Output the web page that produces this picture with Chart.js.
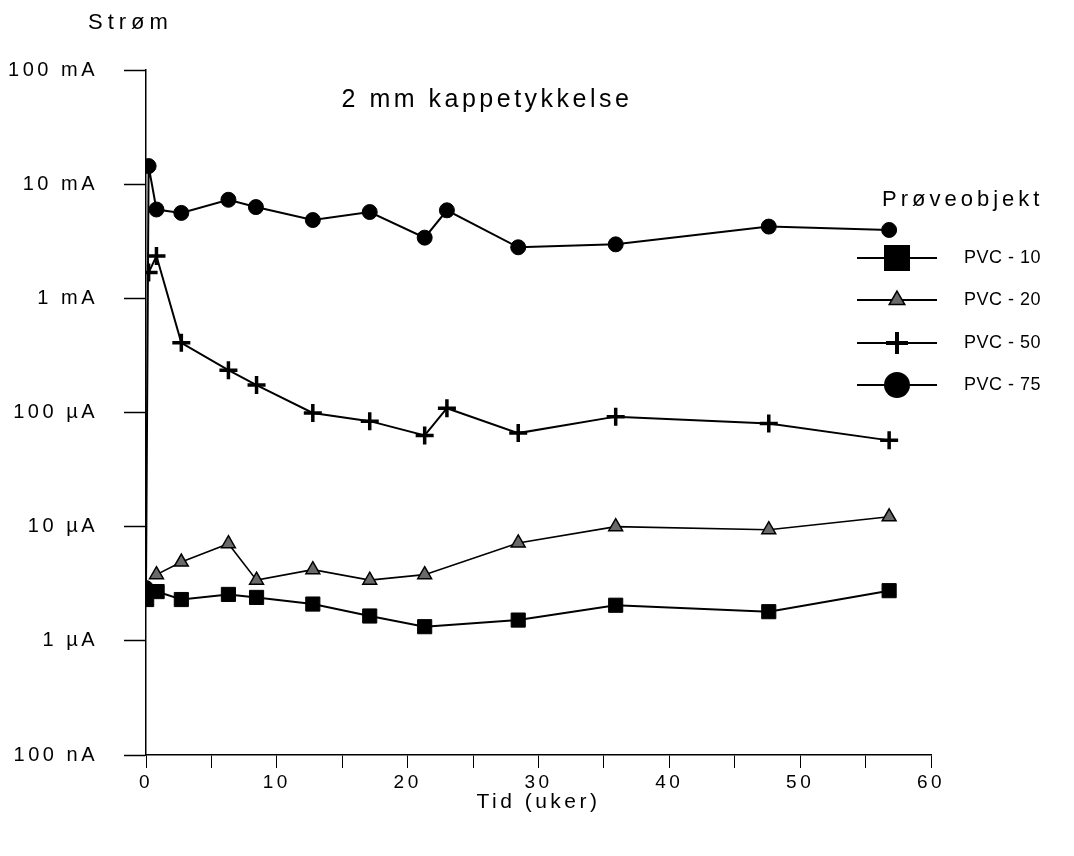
<!DOCTYPE html>
<html>
<head>
<meta charset="utf-8">
<script src="https://cdn.jsdelivr.net/npm/chart.js@4/dist/chart.umd.min.js"></script>
<style>
  html, body { margin: 0; padding: 0; background: #fff; }
  #wrap { width: 1074px; height: 856px; position: relative; }
</style>
</head>
<body>
<div id="wrap"><canvas id="chart"></canvas></div>
<script>
// values; current in µA, time in weeks
const pvc10Weeks = [0.05, 0.85, 2.7, 6.3, 8.45, 12.75, 17.1, 21.3, 28.45, 35.9, 47.6, 56.8]
const pvc10Current = [2.3, 2.7, 2.3, 2.55, 2.4, 2.1, 1.65, 1.33, 1.52, 2.05, 1.8, 2.75]

const pvc20Weeks = [0.8, 2.7, 6.3, 8.45, 12.75, 17.1, 21.3, 28.45, 35.9, 47.6, 56.8]
const pvc20Current = [3.8, 4.9, 7.1, 3.4, 4.2, 3.4, 3.8, 7.2, 10.0, 9.4, 12.2]

const pvc50Weeks = [0.2, 0.8, 2.7, 6.3, 8.45, 12.75, 17.1, 21.3, 23.0, 28.45, 35.9, 47.6, 56.8]
const pvc50Current = [1680, 2350, 408, 235, 174, 99, 84, 63, 109, 66, 92, 80, 57]

const pvc75Weeks = [0, 0.2, 0.8, 2.7, 6.3, 8.4, 12.75, 17.1, 21.3, 23.0, 28.45, 35.9, 47.6, 56.8]
const pvc75Current = [2.9, 14400, 6000, 5600, 7300, 6300, 4850, 5700, 3400, 5900, 2800, 2970, 4250, 3970]

const seriesNames = ['PVC - 10', 'PVC - 20', 'PVC - 50', 'PVC - 75']
const yTickValues = [0.1, 1, 10, 100, 1000, 10000, 100000]
const yTickLabels = ['100 nA', '1 µA', '10 µA', '100 µA', '1 mA', '10 mA', '100 mA']

const FONT = '"Liberation Sans", Arial, sans-serif'
const SPACING = '3.5px'

const toPoints = (xs, ys) => xs.map((x, i) => ({ x, y: ys[i] }))

const baseSet = {
	borderColor: '#000',
	borderWidth: 2,
	tension: 0,
	fill: false,
	pointBorderColor: '#000',
}

const datasets = [
	{ ...baseSet, label: seriesNames[0], data: toPoints(pvc10Weeks, pvc10Current),
		pointStyle: 'rect', pointRadius: 10, pointBackgroundColor: '#000', pointBorderWidth: 1 },
	{ ...baseSet, label: seriesNames[1], data: toPoints(pvc20Weeks, pvc20Current), borderWidth: 1.6,
		pointStyle: 'triangle', pointRadius: 8, pointBackgroundColor: '#6a6a6a', pointBorderWidth: 1.5 },
	{ ...baseSet, label: seriesNames[2], data: toPoints(pvc50Weeks, pvc50Current),
		pointStyle: 'cross', pointRadius: 9, pointBorderWidth: 3.5 },
	{ ...baseSet, label: seriesNames[3], data: toPoints(pvc75Weeks, pvc75Current),
		pointStyle: 'circle', pointRadius: 7.5, pointBackgroundColor: '#000', pointBorderWidth: 1 },
]

const drawMarker = (ctx, style, x, y) => {
	ctx.beginPath()
	if (style === 'rect') {
		ctx.fillRect(x - 13, y - 13, 26, 26)
	} else if (style === 'triangle') {
		const r = 9
		ctx.moveTo(x, y - r)
		ctx.lineTo(x + r * 0.866, y + r / 2)
		ctx.lineTo(x - r * 0.866, y + r / 2)
		ctx.closePath()
		ctx.fillStyle = '#6a6a6a'
		ctx.fill()
		ctx.lineWidth = 1.5
		ctx.stroke()
		ctx.fillStyle = '#000'
	} else if (style === 'cross') {
		ctx.lineWidth = 4
		ctx.moveTo(x, y - 11)
		ctx.lineTo(x, y + 11)
		ctx.moveTo(x - 11, y)
		ctx.lineTo(x + 11, y)
		ctx.stroke()
	} else {
		ctx.arc(x, y, 13, 0, Math.PI * 2)
		ctx.fill()
	}
}

const extras = {
	id: 'extras',
	beforeLayout(chart) { chart.ctx.letterSpacing = SPACING },
	beforeDraw(chart) { chart.ctx.letterSpacing = SPACING },
	afterDraw(chart) {
		const ctx = chart.ctx
		ctx.save()
		ctx.fillStyle = '#000'
		ctx.strokeStyle = '#000'
		ctx.textBaseline = 'middle'

		ctx.textAlign = 'left'
		ctx.letterSpacing = '5px'
		ctx.font = `22px ${FONT}`
		ctx.fillText('Strøm', 88, 23)

		ctx.textAlign = 'center'
		ctx.letterSpacing = '3.5px'
		ctx.font = `25px ${FONT}`
		ctx.fillText('2 mm kappetykkelse', 487, 100)

		ctx.textAlign = 'left'
		ctx.letterSpacing = '4px'
		ctx.font = `22px ${FONT}`
		ctx.fillText('Prøveobjekt', 882, 200)

		ctx.letterSpacing = '0.5px'
		ctx.font = `18px ${FONT}`
		const rows = [258, 300, 343, 385]
		chart.data.datasets.forEach((ds, i) => {
			const y = rows[i]
			ctx.lineWidth = 2
			ctx.beginPath()
			ctx.moveTo(857, y)
			ctx.lineTo(937, y)
			ctx.stroke()
			drawMarker(ctx, ds.pointStyle, 897, y)
			ctx.fillText(ds.label, 964, y)
		})
		ctx.restore()
	},
}

new Chart(document.getElementById('chart'), {
	type: 'line',
	data: { datasets },
	plugins: [extras],
	options: {
		responsive: true,
		maintainAspectRatio: false,
		animation: false,
		layout: { padding: { top: 70, right: 143, left: 0, bottom: 0 } },
		plugins: { legend: { display: false }, tooltip: { enabled: false } },
		scales: {
			x: {
				type: 'linear',
				min: 0,
				max: 60,
				afterFit: scale => { scale.height = 101 },
				border: { display: true, color: '#000', width: 1.5 },
				grid: { drawOnChartArea: false, tickLength: 13, color: '#000', tickWidth: 1 },
				ticks: {
					stepSize: 5,
					color: '#000',
					padding: 3,
					maxRotation: 0,
					autoSkip: false,
					font: { family: FONT, size: 19 },
					callback: v => (v % 10 === 0 ? String(v) : ''),
				},
				title: {
					display: true,
					text: 'Tid (uker)',
					color: '#000',
					font: { family: FONT, size: 21 },
					padding: { top: 0, bottom: 41 },
				},
			},
			y: {
				type: 'logarithmic',
				min: yTickValues[0],
				max: yTickValues[yTickValues.length - 1],
				afterFit: scale => { scale.width = 146 },
				afterBuildTicks: scale => {
					scale.ticks = yTickValues.map(value => ({ value }))
				},
				border: { display: true, color: '#000', width: 1.5 },
				grid: { drawOnChartArea: false, tickLength: 22, color: '#000', tickWidth: 1.5 },
				ticks: {
					color: '#000',
					padding: 26,
					autoSkip: false,
					font: { family: FONT, size: 20 },
					callback: (value, index) => yTickLabels[index],
				},
			},
		},
	},
})
</script>
</body>
</html>
